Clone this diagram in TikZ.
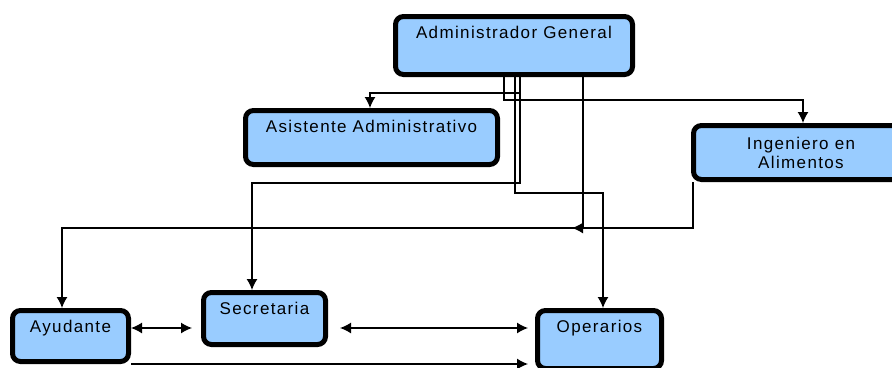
\documentclass[tikz,border=0pt]{standalone}
\usepackage{fontspec}
\setmainfont{Liberation Sans}[LetterSpace=8]
\usepackage{tikz}
\usetikzlibrary{arrows.meta,positioning}
\definecolor{boxblue}{RGB}{153,204,255}
\tikzset{%
  >={Latex[width=11pt,length=11pt]},
            base/.style = {rectangle, rounded corners=8pt, draw=black, line width=5pt,
                           inner xsep=4pt, inner ysep=0pt, fill=boxblue,
                           text centered, font=\fontsize{17pt}{19pt}\selectfont},
  box0/.style = {base, text height=22pt, text depth=#1},
  box1/.style = {base, minimum height=54pt},
}

\begin{document}
\begin{tikzpicture}[node distance=92pt, align=center, line width=1.3pt]
  \useasboundingbox (0,0) rectangle (892pt,-367pt);

  \node (onAdmin)      [box0=36pt, minimum width=237pt] at (514pt,-45.5pt) {Administrador General};
  \node (onAsistente)  [box0=32pt, minimum width=252pt, below of=onAdmin, xshift=-142.5pt]  {Asistente Administrativo};
  \node (onIngeniero)  [box1, minimum width=215pt, below of=onAdmin, xshift=287pt, yshift=-15pt]  {Ingeniero en \\ Alimentos};
  \node (onSecretaria) [box0=30pt, minimum width=122pt, below of=onAsistente, xshift=-107pt, yshift=-89pt]  {Secretaria};
  \node (onAyudante)   [box0=29pt, minimum width=116pt, left of=onSecretaria, xshift=-102pt, yshift=-17.5pt]  {Ayudante};
  \node (onOperarios)  [box0=36pt, minimum width=124pt, right of=onSecretaria, xshift=243pt, yshift=-21pt]  {Operarios};
  \coordinate (onMid) at ([xshift=58pt,yshift=-151pt]onAdmin.south);

  \draw[->] ([xshift=-10pt]onAdmin.south) -- ++(0,-23pt) -| ([xshift=2pt]onIngeniero.north);
  \draw[->] ([xshift=6pt]onAdmin.south) -- ++(0,-16pt) -| ([xshift=-1.5pt]onAsistente.north);
  \draw[->] ([xshift=6pt]onAdmin.south) -- ++(0,-106pt) -| ([xshift=-12.5pt]onSecretaria.north);
  \draw[->] ([xshift=1pt]onAdmin.south) -- ++(0,-116pt) -| ([xshift=3.5pt]onOperarios.north);
  \draw[->] ([xshift=69pt]onAdmin.south) |- (onMid);
  \draw[->] ([xshift=-108pt]onIngeniero.south) -- ++(0,-46pt) -| ([xshift=-8.5pt]onAyudante.north);
  \draw[<->] ([yshift=8pt]onAyudante.east) -- ([xshift=-9pt,yshift=8pt]onAyudante.east -| onSecretaria.west);
  \draw[<->] ([xshift=12pt,yshift=-9.5pt]onSecretaria.east) -- ([xshift=-7pt,yshift=11.5pt]onOperarios.west);
  \draw[->] (onAyudante.south east) -- ([xshift=-7pt]onAyudante.south east -| onOperarios.west);
\end{tikzpicture}
\end{document}
